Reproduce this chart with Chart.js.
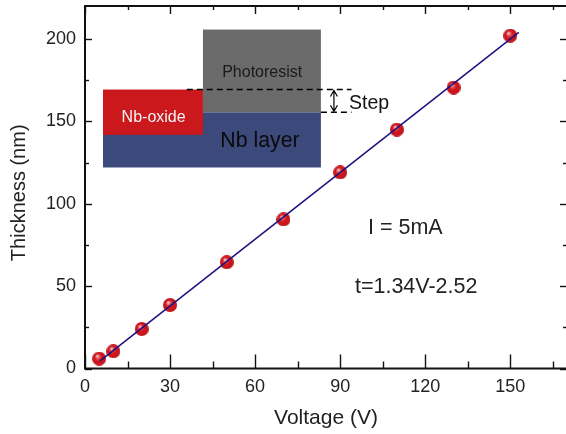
<!DOCTYPE html>
<html>
<head>
<meta charset="utf-8">
<title>Thickness vs Voltage</title>
<script src="https://cdn.jsdelivr.net/npm/chart.js@4"></script>
<style>
    html, body { margin: 0; padding: 0; background: #fff; overflow: hidden; }
    #box { width: 566px; height: 434px; overflow: hidden; }
    #chart { display: block; margin-top: -2px; }
</style>
</head>
<body>
<div id="box"><canvas id="chart" width="575" height="436"></canvas></div>
<script>
const voltage = [5, 10, 20, 30, 50, 70, 90, 110, 130, 150];
const thickness = [6, 10.5, 24, 38.5, 64.5, 90.5, 119, 145, 170.5, 202];
const fitVoltage = [5.3, 153];
const fitThickness = [4.6, 204];

const xMajor = [0, 30, 60, 90, 120, 150];
const xMinor = [15, 45, 75, 105, 135, 165];
const yMajor = [0, 50, 100, 150, 200];
const yMinor = [25, 75, 125, 175];

const FONT = '"Liberation Sans", Arial, sans-serif';

// shiny red ball used as the point marker
function makeBall(size) {
    const c = document.createElement('canvas');
    c.width = size;
    c.height = size;
    const g = c.getContext('2d');
    const r = size / 2;
    const grad = g.createRadialGradient(r * 0.72, r * 0.62, 0.3, r, r, r);
    grad.addColorStop(0, '#f8d4d6');
    grad.addColorStop(0.25, '#e4545a');
    grad.addColorStop(0.5, '#d2171e');
    grad.addColorStop(0.85, '#c8151b');
    grad.addColorStop(1, '#b01319');
    g.fillStyle = grad;
    g.beginPath();
    g.arc(r, r, r, 0, Math.PI * 2);
    g.fill();
    return c;
}

function pinnedTicks(list) {
    return scale => { scale.ticks = list.map(v => ({ value: v })); };
}

// keep the plot box where it is, whatever the tick labels want
function noMargins(scale) {
    scale.paddingTop = 0;
    scale.paddingBottom = 0;
    scale.paddingLeft = 0;
    scale.paddingRight = 0;
}

const frame = {
    id: 'frame',
    afterDatasetsDraw(chart) {
        const { ctx, chartArea: a, scales: { x, y } } = chart;
        ctx.save();
        ctx.strokeStyle = '#111';
        ctx.lineWidth = 1.4;
        const tick = (x1, y1, x2, y2) => {
            ctx.beginPath();
            ctx.moveTo(x1, y1);
            ctx.lineTo(x2, y2);
            ctx.stroke();
        };
        xMajor.forEach(v => {
            const p = Math.round(x.getPixelForValue(v)) + 0.5;
            tick(p, a.bottom, p, a.bottom - 14);
            tick(p, a.top, p, a.top + 8);
        });
        xMinor.forEach(v => {
            const p = Math.round(x.getPixelForValue(v)) + 0.5;
            tick(p, a.bottom, p, a.bottom - 7);
            tick(p, a.top, p, a.top + 4);
        });
        yMajor.forEach(v => {
            const p = Math.round(y.getPixelForValue(v)) + 0.5;
            tick(a.left, p, a.left + 7, p);
            tick(a.right, p, a.right - 7, p);
        });
        yMinor.forEach(v => {
            const p = Math.round(y.getPixelForValue(v)) + 0.5;
            tick(a.left, p, a.left + 4, p);
            tick(a.right, p, a.right - 4, p);
        });
        ctx.lineWidth = 2;
        ctx.strokeRect(a.left, a.top, a.right - a.left, a.bottom - a.top);
        ctx.restore();
    }
};

// layer sketch and the notes, placed in axis units
const inset = {
    id: 'inset',
    beforeDatasetsDraw(chart) {
        const { ctx, scales: { x, y } } = chart;
        const px = v => x.getPixelForValue(v);
        const py = v => y.getPixelForValue(v);
        const box = (x0, x1, y0, y1, color) => {
            ctx.fillStyle = color;
            ctx.fillRect(px(x0), py(y1), px(x1) - px(x0), py(y0) - py(y1));
        };
        const label = (s, vx, vy, size, color, align) => {
            ctx.font = size + 'px ' + FONT;
            ctx.fillStyle = color;
            ctx.textAlign = align || 'center';
            ctx.textBaseline = 'middle';
            ctx.fillText(s, px(vx), py(vy));
        };
        ctx.save();
        box(6.35, 83.2, 122, 155.5, '#3b4a7b');
        box(41.6, 83.2, 155.5, 205.7, '#6b6b6b');
        box(6.35, 41.6, 141.8, 169.3, '#cb181c');

        ctx.strokeStyle = '#000';
        ctx.lineWidth = 1.4;
        ctx.setLineDash([6, 4]);
        ctx.beginPath();
        ctx.moveTo(px(35.9), py(169.3));
        ctx.lineTo(px(94), py(169.3));
        ctx.moveTo(px(83.2), py(155.5));
        ctx.lineTo(px(94), py(155.5));
        ctx.stroke();
        ctx.setLineDash([]);

        // double arrow for the step height
        const ax = px(87.8);
        const top = py(169.3) + 1;
        const bot = py(155.5) - 1;
        ctx.lineWidth = 1.2;
        ctx.beginPath();
        ctx.moveTo(ax - 3.5, top + 6);
        ctx.lineTo(ax, top);
        ctx.lineTo(ax + 3.5, top + 6);
        ctx.moveTo(ax, top);
        ctx.lineTo(ax, bot);
        ctx.moveTo(ax - 3.5, bot - 6);
        ctx.lineTo(ax, bot);
        ctx.lineTo(ax + 3.5, bot - 6);
        ctx.stroke();

        label('Photoresist', 62.5, 179.6, 16, '#1a1a1a');
        label('Nb-oxide', 24.2, 152.2, 16, '#f4f4f4');
        label('Nb layer', 61.7, 137.8, 21.3, '#0a0a0a');
        label('Step', 93.1, 160.8, 19.5, '#111', 'left');
        label('I = 5mA', 99.8, 85.4, 21.5, '#222', 'left');
        label('t=1.34V-2.52', 95.2, 49.4, 21.5, '#222', 'left');
        ctx.restore();
    }
};

new Chart(document.getElementById('chart'), {
    type: 'scatter',
    data: {
        datasets: [
            {
                label: 'Fit',
                type: 'line',
                data: fitVoltage.map((v, i) => ({ x: v, y: fitThickness[i] })),
                borderColor: '#1c1080',
                borderWidth: 1.5,
                pointRadius: 0,
                order: 1
            },
            {
                label: 'Thickness',
                data: voltage.map((v, i) => ({ x: v, y: thickness[i] })),
                pointStyle: makeBall(14),
                pointRadius: 7,
                order: 2
            }
        ]
    },
    options: {
        responsive: false,
        animation: false,
        layout: { padding: { top: 6, right: 0, left: 0, bottom: 0 } },
        plugins: {
            legend: { display: false },
            tooltip: { enabled: false }
        },
        scales: {
            x: {
                type: 'linear',
                min: 0,
                max: 170,
                afterBuildTicks: pinnedTicks(xMajor),
                afterFit: s => { s.height = 65.5; noMargins(s); },
                grid: { display: false },
                border: { display: false },
                ticks: { color: '#222', font: { size: 18, family: FONT }, padding: 0, maxRotation: 0 },
                title: {
                    display: true,
                    text: 'Voltage (V)',
                    color: '#222',
                    font: { size: 21, family: FONT },
                    padding: { top: 0, bottom: 3 }
                }
            },
            y: {
                type: 'linear',
                min: 0,
                max: 220,
                afterBuildTicks: pinnedTicks(yMajor),
                afterFit: s => { s.width = 85; noMargins(s); },
                grid: { display: false },
                border: { display: false },
                ticks: { color: '#222', font: { size: 18, family: FONT }, padding: 1 },
                title: {
                    display: true,
                    // trailing spaces push the title down a little, as in the original
                    text: 'Thickness (nm)  ',
                    color: '#222',
                    font: { size: 20, family: FONT },
                    padding: { top: 7, bottom: 0 }
                }
            }
        }
    },
    plugins: [inset, frame]
});
</script>
</body>
</html>
